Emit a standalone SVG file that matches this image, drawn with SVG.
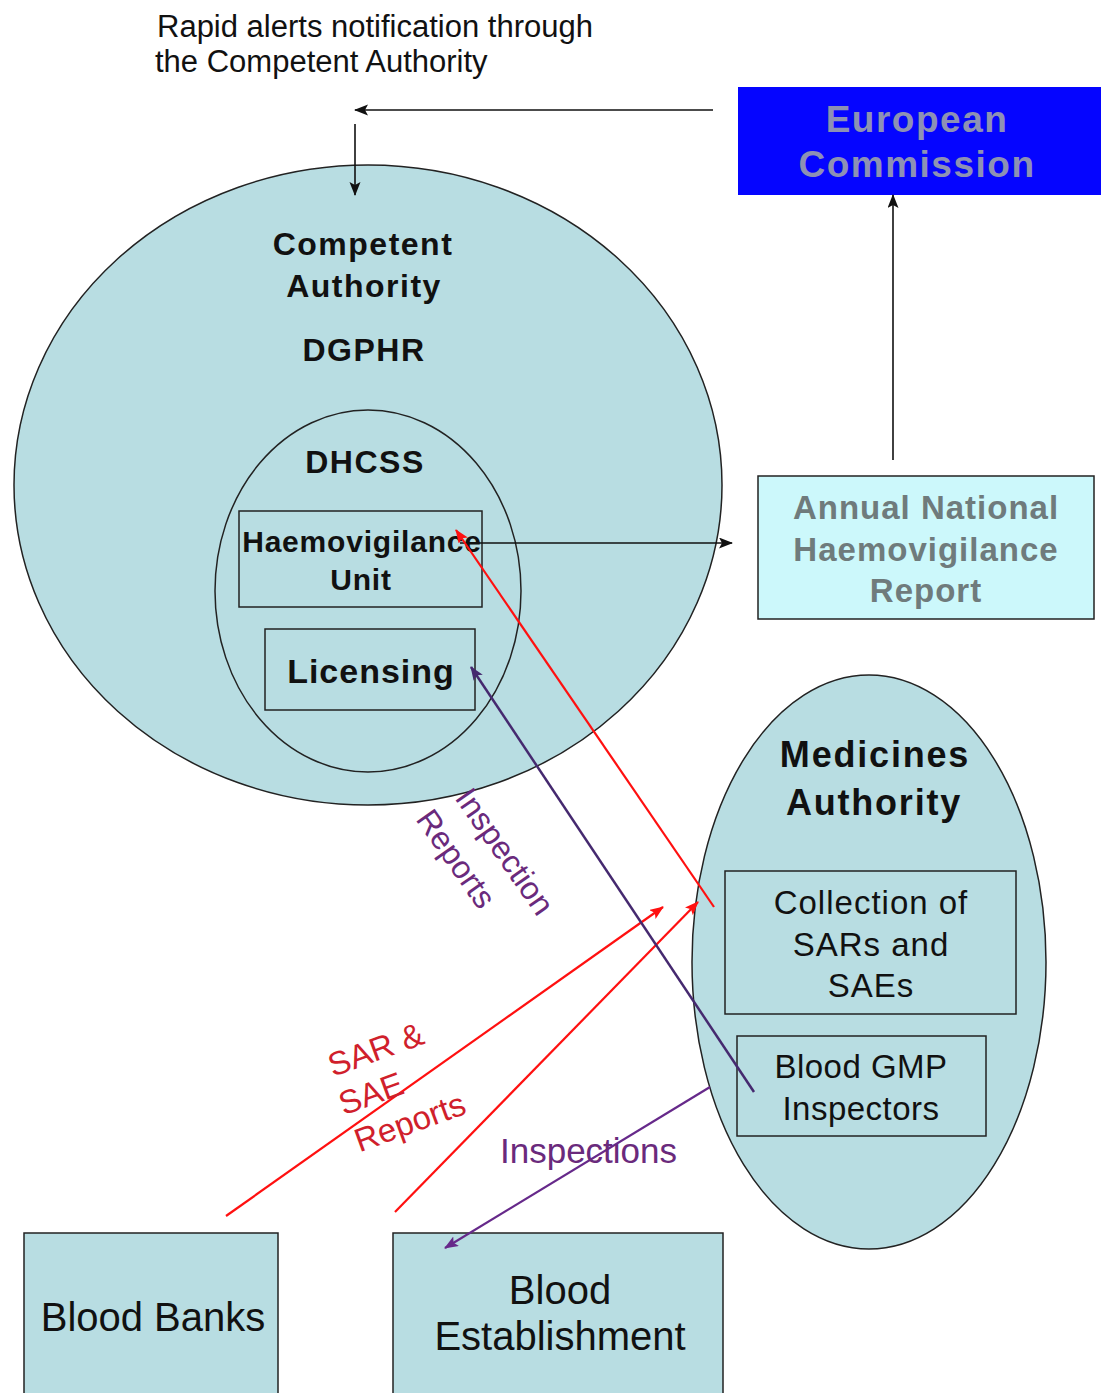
<svg xmlns="http://www.w3.org/2000/svg" width="1101" height="1393" viewBox="0 0 1101 1393">
  <style>
    text { font-family: "Liberation Sans", Arial, sans-serif; }
    .shape { fill: #b8dde2; stroke: #222; stroke-width: 1.5; }
    .hd { font-weight: bold; fill: #111; text-anchor: middle; }
    .body { fill: #111; text-anchor: middle; }
    .blk { stroke: #111; stroke-width: 1.6; fill: none; }
    .red { stroke: #ff1010; stroke-width: 2.2; fill: none; }
    .prp { stroke: #45296f; stroke-width: 2.5; fill: none; }
    .prp2 { stroke: #66298a; stroke-width: 2.2; fill: none; }
  </style>
  <defs>
    <marker id="ahBlack" markerUnits="userSpaceOnUse" markerWidth="16" markerHeight="12" refX="13" refY="5.5" orient="auto">
      <path d="M0,0 L14,5.5 L0,11 L3,5.5 Z" fill="#111"/>
    </marker>
    <marker id="ahRed" markerUnits="userSpaceOnUse" markerWidth="16" markerHeight="12" refX="13" refY="5.5" orient="auto">
      <path d="M0,0 L14,5.5 L0,11 L3,5.5 Z" fill="#ff1010"/>
    </marker>
    <marker id="ahPurple" markerUnits="userSpaceOnUse" markerWidth="16" markerHeight="12" refX="13" refY="5.5" orient="auto">
      <path d="M0,0 L14,5.5 L0,11 L3,5.5 Z" fill="#45296f"/>
    </marker>
    <marker id="ahPurple2" markerUnits="userSpaceOnUse" markerWidth="16" markerHeight="12" refX="13" refY="5.5" orient="auto">
      <path d="M0,0 L14,5.5 L0,11 L3,5.5 Z" fill="#66298a"/>
    </marker>
  </defs>

  <rect width="1101" height="1393" fill="#ffffff"/>

  <!-- caption for the alert route -->
  <g id="rapid-alerts-caption">
    <text x="157" y="37" font-size="31" fill="#111">Rapid alerts notification through</text>
    <text x="155" y="72" font-size="31" fill="#111">the Competent Authority</text>
  </g>

  <g id="european-commission">
    <rect x="738" y="87" width="363" height="108" fill="#0505ff"/>
    <text x="917" y="132" font-size="37" font-weight="bold" letter-spacing="1.5" fill="#8d91b4" text-anchor="middle">European</text>
    <text x="917" y="177" font-size="37" font-weight="bold" letter-spacing="1.5" fill="#8d91b4" text-anchor="middle">Commission</text>
  </g>

  <g id="competent-authority">
    <ellipse class="shape" cx="368" cy="485" rx="354" ry="320"/>
    <text class="hd" x="363" y="255" font-size="32" letter-spacing="1.5">Competent</text>
    <text class="hd" x="364" y="297" font-size="32" letter-spacing="1.5">Authority</text>
    <text class="hd" x="364" y="361" font-size="32" letter-spacing="1.5">DGPHR</text>
  </g>

  <g id="dhcss">
    <ellipse class="shape" cx="368" cy="591" rx="153" ry="181"/>
    <text class="hd" x="365" y="473" font-size="32" letter-spacing="1.5">DHCSS</text>
  </g>

  <g id="haemovigilance-unit">
    <rect class="shape" x="239" y="511" width="243" height="96"/>
    <text class="hd" x="362" y="552" font-size="30" letter-spacing="0.8">Haemovigilance</text>
    <text class="hd" x="361" y="590" font-size="30" letter-spacing="0.8">Unit</text>
  </g>

  <g id="licensing">
    <rect class="shape" x="265" y="629" width="210" height="81"/>
    <text class="hd" x="371" y="683" font-size="34" letter-spacing="1">Licensing</text>
  </g>

  <g id="annual-report">
    <rect x="758" y="476" width="336" height="143" fill="#ccf8fb" stroke="#222" stroke-width="1.5"/>
    <text x="926" y="519" font-size="33" font-weight="bold" letter-spacing="1" fill="#6f7b7c" text-anchor="middle">Annual National</text>
    <text x="926" y="561" font-size="33" font-weight="bold" letter-spacing="1" fill="#6f7b7c" text-anchor="middle">Haemovigilance</text>
    <text x="926" y="602" font-size="33" font-weight="bold" letter-spacing="1" fill="#6f7b7c" text-anchor="middle">Report</text>
  </g>

  <g id="medicines-authority">
    <ellipse class="shape" cx="869" cy="962" rx="177" ry="287"/>
    <text class="hd" x="875" y="767" font-size="36" letter-spacing="1.8">Medicines</text>
    <text class="hd" x="874" y="815" font-size="36" letter-spacing="1.8">Authority</text>
  </g>

  <g id="collection">
    <rect class="shape" x="725" y="871" width="291" height="143"/>
    <text class="body" x="871" y="914" font-size="33" letter-spacing="1">Collection of</text>
    <text class="body" x="871" y="956" font-size="33" letter-spacing="1">SARs and</text>
    <text class="body" x="871" y="997" font-size="33" letter-spacing="1">SAEs</text>
  </g>

  <g id="gmp-inspectors">
    <rect class="shape" x="737" y="1036" width="249" height="100"/>
    <text class="body" x="861" y="1078" font-size="33" letter-spacing="0.5">Blood GMP</text>
    <text class="body" x="861" y="1120" font-size="33" letter-spacing="0.5">Inspectors</text>
  </g>

  <g id="blood-banks">
    <rect class="shape" x="24" y="1233" width="254" height="170"/>
    <text class="body" x="153" y="1331" font-size="40">Blood Banks</text>
  </g>

  <g id="blood-establishment">
    <rect class="shape" x="393" y="1233" width="330" height="170"/>
    <text class="body" x="560" y="1304" font-size="40">Blood</text>
    <text class="body" x="560" y="1350" font-size="40">Establishment</text>
  </g>

  <!-- flows between the bodies -->
  <g id="connectors">
    <line class="blk" x1="713" y1="110" x2="355" y2="110" marker-end="url(#ahBlack)"/>
    <line class="blk" x1="355" y1="124" x2="355" y2="195" marker-end="url(#ahBlack)"/>
    <line class="blk" x1="893" y1="460" x2="893" y2="195" marker-end="url(#ahBlack)"/>
    <line class="blk" x1="460" y1="543" x2="732" y2="543" marker-end="url(#ahBlack)"/>

    <line class="red" x1="714" y1="907" x2="456" y2="530" marker-end="url(#ahRed)"/>
    <line class="red" x1="226" y1="1216" x2="663" y2="907" marker-end="url(#ahRed)"/>
    <line class="red" x1="395" y1="1212" x2="698" y2="902" marker-end="url(#ahRed)"/>

    <line class="prp" x1="754" y1="1092" x2="471" y2="667" marker-end="url(#ahPurple)"/>
    <line class="prp2" x1="710" y1="1087" x2="445" y2="1248" marker-end="url(#ahPurple2)"/>

    <g id="label-inspection-reports" fill="#6a2a7c" font-size="32">
      <text transform="translate(454,798) rotate(55)" x="0" y="0">Inspection</text>
      <text transform="translate(454,798) rotate(55)" x="-5" y="44">Reports</text>
    </g>
    <g id="label-sar-sae" fill="#d01f2c" font-size="33" transform="translate(333,1077) rotate(-20)">
      <text x="0" y="0">SAR &amp;</text>
      <text x="-3" y="40">SAE</text>
      <text x="-1" y="80">Reports</text>
    </g>
    <text id="label-inspections" x="500" y="1163" font-size="35" fill="#6a2a7c">Inspections</text>
  </g>
</svg>
